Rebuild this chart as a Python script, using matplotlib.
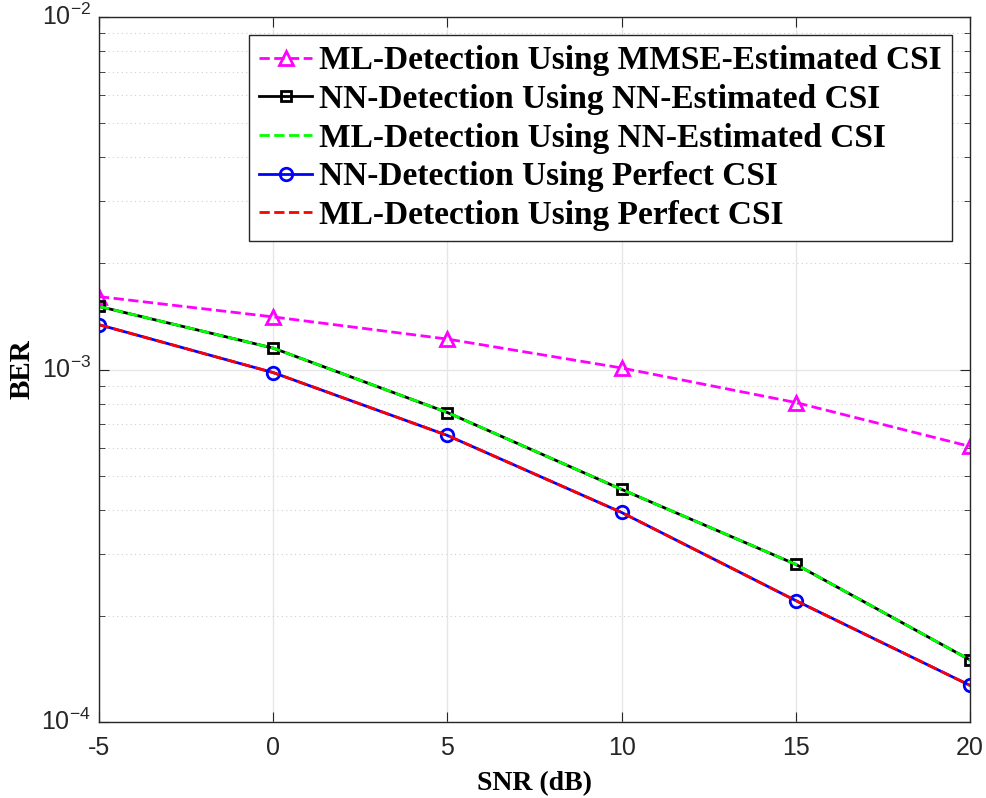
import numpy as np
import matplotlib
matplotlib.use("Agg")
import matplotlib.pyplot as plt
from matplotlib.ticker import LogLocator, NullFormatter

plt.rcParams["mathtext.fontset"] = "custom"
plt.rcParams["mathtext.rm"] = "Liberation Sans"
plt.rcParams["mathtext.default"] = "rm"

# SNR points and BER values
snr = [-5, 0, 5, 10, 15, 20]
ber_ml_mmse = [1.61e-3, 1.41e-3, 1.22e-3, 1.01e-3, 8.06e-4, 6.05e-4]
ber_nn_nnest = [1.51e-3, 1.15e-3, 7.55e-4, 4.57e-4, 2.80e-4, 1.50e-4]
ber_ml_nnest = [1.51e-3, 1.15e-3, 7.55e-4, 4.57e-4, 2.80e-4, 1.50e-4]
ber_nn_perfect = [1.34e-3, 0.98e-3, 6.5e-4, 3.93e-4, 2.21e-4, 1.27e-4]
ber_ml_perfect = [1.34e-3, 0.98e-3, 6.5e-4, 3.93e-4, 2.21e-4, 1.27e-4]

labels = ["ML-Detection Using MMSE-Estimated CSI",
          "NN-Detection Using NN-Estimated CSI",
          "ML-Detection Using NN-Estimated CSI",
          "NN-Detection Using Perfect CSI",
          "ML-Detection Using Perfect CSI"]
xtick_labels = ["-5", "0", "5", "10", "15", "20"]
ytick_labels = ["$10^{-4}$", "$10^{-3}$", "$10^{-2}$"]

fig = plt.figure(figsize=(9.87, 7.98), dpi=100)
ax = fig.add_axes([99 / 987, 1 - 722 / 798, (970 - 99) / 987, (722 - 17) / 798])

ax.semilogy(snr, ber_ml_mmse, "--^", color="#ff00ff", lw=2, ms=10, mfc="none", mew=2, label=labels[0])
ax.semilogy(snr, ber_nn_nnest, "-s", color="black", lw=2, ms=7, mfc="none", mew=2, label=labels[1])
ax.semilogy(snr, ber_ml_nnest, "--", color="#00ff00", lw=2, label=labels[2])
ax.semilogy(snr, ber_nn_perfect, "-o", color="blue", lw=2, ms=9, mfc="none", mew=2, label=labels[3])
ax.semilogy(snr, ber_ml_perfect, "--", color="red", lw=2, label=labels[4])

ax.set_xlim(-5, 20)
ax.set_ylim(1e-4, 1e-2)
ax.set_xticks(snr)
ax.set_xticklabels(xtick_labels)
ax.set_yticks([1e-4, 1e-3, 1e-2])
ax.set_yticklabels(ytick_labels)
ax.yaxis.set_minor_locator(LogLocator(base=10, subs=np.arange(2, 10)))
ax.yaxis.set_minor_formatter(NullFormatter())

ax.grid(True, which="major", color="#e6e6e6", lw=1)
ax.grid(True, which="minor", axis="y", color="#d0d0d0", lw=0.8, ls=(0, (1, 3)))
ax.set_axisbelow(True)

ax.tick_params(which="both", direction="in", top=True, right=True, colors="#262626",
               labelsize=18, length=7)
ax.tick_params(which="minor", length=4)
ax.tick_params(axis="x", pad=10)
ax.tick_params(axis="y", pad=6)
for lbl in ax.get_xticklabels() + ax.get_yticklabels():
    lbl.set_fontfamily("Liberation Sans")
for lbl in ax.get_yticklabels():
    lbl.set_verticalalignment("center")
for sp in ax.spines.values():
    sp.set_color("#262626")
    sp.set_linewidth(1)

ax.set_xlabel("SNR (dB)", fontfamily="Liberation Serif", fontweight="bold", fontsize=20, labelpad=8)
ax.set_ylabel("BER", fontfamily="Liberation Serif", fontweight="bold", fontsize=21, labelpad=4)

leg = ax.legend(loc="upper right", bbox_to_anchor=(0.979, 0.974), fancybox=False, framealpha=1,
                edgecolor="#262626", handlelength=1.6, handletextpad=0.2, borderpad=0.3,
                borderaxespad=0, labelspacing=0.23,
                prop={"family": "Liberation Serif", "weight": "bold", "size": 24})
leg.get_frame().set_linewidth(1)

fig.savefig("out.png", dpi=100)
